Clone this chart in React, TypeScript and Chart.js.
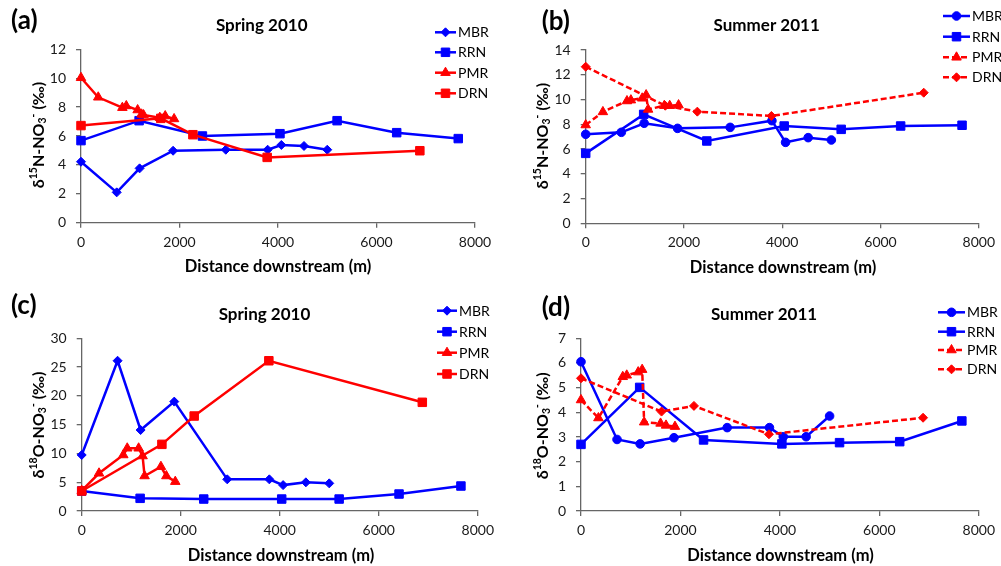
import { useEffect, useRef } from "react";
import { Chart, registerables } from "chart.js";

Chart.register(...registerables);

const FONT = "Lato, 'Open Sans', 'DejaVu Sans', sans-serif";
const BLUE = "#0000ff";
const RED = "#ff0000";
const AXIS = "#666666";

// distance downstream (m) of each sampling site
const MBR_X = [0, 725, 1190, 1870, 2940, 3790, 4068, 4528, 5000];
const RRN_X = [0, 1180, 2465, 4040, 5200, 6410, 7660];
const PMR_X = [0, 350, 840, 920, 1150, 1230, 1270, 1600, 1710, 1890];
const DRN_X = [0, 1620, 2272, 3780, 6880];

// (a) d15N spring 2010
const A_MBR = [4.22, 2.1, 3.76, 4.98, 5.05, 5.05, 5.38, 5.31, 5.05];
const A_RRN = [5.68, 7.06, 6.0, 6.16, 7.06, 6.23, 5.82];
const A_PMR = [10.03, 8.68, 7.96, 8.08, 7.8, 7.5, 7.45, 7.27, 7.38, 7.18];
const A_DRN = [6.72, 7.22, 6.09, 4.52, 4.98];

// (b) d15N summer 2011
const B_MBR = [7.19, 7.35, 8.08, 7.67, 7.75, 8.29, 6.54, 6.92, 6.73];
const B_RRN = [5.65, 8.8, 6.65, 7.86, 7.59, 7.86, 7.92];
const B_PMR = [7.94, 9.0, 9.88, 9.95, 10.1, 10.36, 9.2, 9.5, 9.5, 9.55];
const B_DRN = [12.65, 9.5, 9.02, 8.67, 10.55];

// (c) d18O spring 2010
const C_MBR = [9.73, 26.1, 14.07, 19.0, 5.5, 5.5, 4.5, 4.98, 4.8];
const C_RRN = [3.47, 2.2, 2.08, 2.08, 2.08, 2.95, 4.34];
const C_PMR = [3.53, 6.55, 9.73, 10.9, 10.9, 9.55, 6.08, 7.7, 6.08, 5.1];
const C_DRN = [3.47, 11.58, 16.5, 26.1, 18.88];

// (d) d18O summer 2011
const D_MBR = [6.05, 2.9, 2.72, 2.97, 3.38, 3.38, 3.01, 3.01, 3.85];
const D_RRN = [2.7, 5.01, 2.88, 2.72, 2.77, 2.81, 3.65];
const D_PMR = [4.5, 3.77, 5.44, 5.5, 5.63, 5.73, 3.6, 3.55, 3.47, 3.42];
const D_DRN = [5.38, 4.03, 4.26, 3.11, 3.78];

const X_TICK_MAX = 8000;
const X_TICK_STEP = 2000;

type Series = {
  label: string;
  xs: number[];
  ys: number[];
  color: string;
  shape: "circle" | "rect" | "rectRot" | "triangle";
  r: number;
  dashed: boolean;
};

type Panel = {
  tag: string;
  title: string;
  iso: string;
  elem: string;
  yMax: number;
  yStep: number;
  left: number;
  top: number;
  w: number;
  h: number;
  area: { l: number; r: number; t: number; b: number };
  tagPos: [number, number];
  titlePos: [number, number];
  xTitlePos: [number, number];
  yTitlePos: [number, number];
  legend: { x: number; len: number; ys: number[] };
  series: Series[];
};

function spring(mbr: number[], rrn: number[], pmr: number[], drn: number[]): Series[] {
  return [
    { label: "MBR", xs: MBR_X, ys: mbr, color: BLUE, shape: "rectRot", r: 4.5, dashed: false },
    { label: "RRN", xs: RRN_X, ys: rrn, color: BLUE, shape: "rect", r: 6, dashed: false },
    { label: "PMR", xs: PMR_X, ys: pmr, color: RED, shape: "triangle", r: 5.5, dashed: false },
    { label: "DRN", xs: DRN_X, ys: drn, color: RED, shape: "rect", r: 6, dashed: false },
  ];
}

function summer(mbr: number[], rrn: number[], pmr: number[], drn: number[]): Series[] {
  return [
    { label: "MBR", xs: MBR_X, ys: mbr, color: BLUE, shape: "circle", r: 4.3, dashed: false },
    { label: "RRN", xs: RRN_X, ys: rrn, color: BLUE, shape: "rect", r: 6, dashed: false },
    { label: "PMR", xs: PMR_X, ys: pmr, color: RED, shape: "triangle", r: 5.5, dashed: true },
    { label: "DRN", xs: DRN_X, ys: drn, color: RED, shape: "rectRot", r: 4.5, dashed: true },
  ];
}

const PANELS: Panel[] = [
  {
    tag: "a", title: "Spring 2010", iso: "15", elem: "N", yMax: 12, yStep: 2,
    left: 0, top: 0, w: 500, h: 283,
    area: { l: 81, r: 475, t: 49.3, b: 222.7 },
    tagPos: [11, 21], titlePos: [261.7, 25.7], xTitlePos: [278, 266.7], yTitlePos: [39, 135],
    legend: { x: 435, len: 21, ys: [32.3, 52.3, 72.7, 93.3] },
    series: spring(A_MBR, A_RRN, A_PMR, A_DRN),
  },
  {
    tag: "b", title: "Summer 2011", iso: "15", elem: "N", yMax: 14, yStep: 2,
    left: 500, top: 0, w: 501, h: 283,
    area: { l: 85.7, r: 479.3, t: 50, b: 223.3 },
    tagPos: [41.7, 21.5], titlePos: [266.7, 26], xTitlePos: [283, 267.7], yTitlePos: [42.7, 136],
    legend: { x: 443, len: 27, ys: [16, 36.7, 57.3, 77.3] },
    series: summer(B_MBR, B_RRN, B_PMR, B_DRN),
  },
  {
    tag: "c", title: "Spring 2010", iso: "18", elem: "O", yMax: 30, yStep: 5,
    left: 0, top: 283, w: 500, h: 283,
    area: { l: 81.7, r: 480, t: 55.3, b: 228 },
    tagPos: [11, 23], titlePos: [264.5, 31.3], xTitlePos: [281, 273], yTitlePos: [39, 142],
    legend: { x: 437, len: 20, ys: [27.7, 48.7, 69.7, 91] },
    series: spring(C_MBR, C_RRN, C_PMR, C_DRN),
  },
  {
    tag: "d", title: "Summer 2011", iso: "18", elem: "O", yMax: 7, yStep: 1,
    left: 500, top: 283, w: 501, h: 283,
    area: { l: 81, r: 480, t: 55.3, b: 228 },
    tagPos: [41.7, 24.5], titlePos: [264, 31.3], xTitlePos: [280.5, 273], yTitlePos: [42.7, 142.8],
    legend: { x: 438, len: 27, ys: [29.3, 48.7, 67, 86.3] },
    series: summer(D_MBR, D_RRN, D_PMR, D_DRN),
  },
];

function drawMarker(ctx: CanvasRenderingContext2D, s: Series, x: number, y: number) {
  const r = s.r;
  ctx.beginPath();
  if (s.shape === "circle") {
    ctx.arc(x, y, r, 0, Math.PI * 2);
  } else if (s.shape === "rect") {
    const h = Math.SQRT1_2 * r;
    ctx.rect(x - h, y - h, 2 * h, 2 * h);
  } else if (s.shape === "rectRot") {
    ctx.moveTo(x - r, y);
    ctx.lineTo(x, y - r);
    ctx.lineTo(x + r, y);
    ctx.lineTo(x, y + r);
    ctx.closePath();
  } else {
    ctx.moveTo(x, y - r);
    ctx.lineTo(x + 0.866 * r, y + 0.5 * r);
    ctx.lineTo(x - 0.866 * r, y + 0.5 * r);
    ctx.closePath();
  }
  ctx.fillStyle = s.color;
  ctx.strokeStyle = s.color;
  ctx.lineWidth = 1;
  ctx.setLineDash([]);
  ctx.fill();
  ctx.stroke();
}

function drawYTitle(ctx: CanvasRenderingContext2D, p: Panel) {
  const big = `bold 16px ${FONT}`;
  const small = `bold 10.5px ${FONT}`;
  // [text, shift]: 0 normal, 1 superscript, -1 subscript
  const parts: [string, number][] = [
    ["δ", 0], [p.iso, 1], [p.elem + "-NO", 0], ["3", -1], ["-", 1], [" (‰)", 0],
  ];
  let total = 0;
  const widths = parts.map(([t, k]) => {
    ctx.font = k === 0 ? big : small;
    const wd = ctx.measureText(t).width;
    total += wd;
    return wd;
  });
  ctx.save();
  ctx.translate(p.yTitlePos[0], p.yTitlePos[1]);
  ctx.rotate(-Math.PI / 2);
  ctx.textAlign = "left";
  ctx.textBaseline = "middle";
  ctx.fillStyle = "#000";
  let x = -total / 2;
  parts.forEach(([t, k], i) => {
    ctx.font = k === 0 ? big : small;
    const dy = k === 1 ? -5 : k === -1 ? 4 : 0;
    ctx.fillText(t, x, dy);
    x += widths[i];
  });
  ctx.restore();
}

function overlay(p: Panel) {
  return {
    id: "overlay-" + p.tag,
    afterDraw(chart: Chart) {
      const ctx = chart.ctx;
      ctx.save();
      ctx.fillStyle = "#000";
      ctx.textBaseline = "middle";

      ctx.textAlign = "left";
      ctx.font = `bold 26px ${FONT}`;
      ctx.fillText(`(${p.tag})`, p.tagPos[0], p.tagPos[1]);

      ctx.textAlign = "center";
      ctx.font = `bold 17px ${FONT}`;
      ctx.fillText(p.title, p.titlePos[0], p.titlePos[1]);

      ctx.font = `bold 16.5px ${FONT}`;
      ctx.fillText("Distance downstream (m)", p.xTitlePos[0], p.xTitlePos[1]);

      drawYTitle(ctx, p);

      // legend: line + marker + name
      p.series.forEach((s, i) => {
        const y = p.legend.ys[i];
        const x1 = p.legend.x;
        const x2 = x1 + p.legend.len;
        ctx.beginPath();
        ctx.strokeStyle = s.color;
        ctx.lineWidth = 2.5;
        ctx.setLineDash(s.dashed ? [6, 3] : []);
        ctx.moveTo(x1, y);
        ctx.lineTo(x2, y);
        ctx.stroke();
        drawMarker(ctx, s, (x1 + x2) / 2, y);
        ctx.fillStyle = "#000";
        ctx.textAlign = "left";
        ctx.font = `14px ${FONT}`;
        ctx.fillText(s.label, x2 + 2, y + 0.5);
      });
      ctx.restore();
    },
  };
}

function buildConfig(p: Panel): any {
  const a = p.area;
  const tickFont = { family: FONT, size: 14 };
  const grid = { display: true, drawOnChartArea: false, drawTicks: true, tickLength: 5, color: AXIS, lineWidth: 1.3 };
  const border = { display: true, color: AXIS, width: 1.3 };
  return {
    type: "line",
    data: {
      datasets: p.series.map((s, i) => ({
        label: s.label,
        data: s.xs.map((x, j) => ({ x, y: s.ys[j] })),
        borderColor: s.color,
        backgroundColor: s.color,
        borderWidth: 2.5,
        borderDash: s.dashed ? [6, 3] : [],
        pointStyle: s.shape,
        pointRadius: s.r,
        pointBorderWidth: 1,
        pointBorderColor: s.color,
        pointBackgroundColor: s.color,
        tension: 0,
        fill: false,
        clip: false,
        order: 4 - i,
      })),
    },
    options: {
      animation: false,
      responsive: false,
      events: [],
      layout: { padding: { left: 0, top: a.t, right: p.w - a.r, bottom: 0 } },
      plugins: { legend: { display: false }, tooltip: { enabled: false }, title: { display: false } },
      scales: {
        x: {
          type: "linear",
          min: 0,
          max: X_TICK_MAX,
          ticks: { stepSize: X_TICK_STEP, padding: 6, color: "#1a1a1a", font: tickFont, maxRotation: 0, callback: (v: number) => String(v) },
          grid,
          border,
          afterFit: (s: any) => { s.height = p.h - a.b; },
        },
        y: {
          type: "linear",
          min: 0,
          max: p.yMax,
          ticks: { stepSize: p.yStep, padding: 10, color: "#1a1a1a", font: tickFont, callback: (v: number) => String(v) },
          grid,
          border,
          afterFit: (s: any) => { s.width = a.l; },
        },
      },
    },
    plugins: [overlay(p)],
  };
}

function PanelChart({ p }: { p: Panel }) {
  const canvasRef = useRef<HTMLCanvasElement | null>(null);

  useEffect(() => {
    if (!canvasRef.current) return;
    const chart = new Chart(canvasRef.current, buildConfig(p));
    return () => chart.destroy();
  }, [p]);

  return (
    <canvas
      ref={canvasRef}
      width={p.w}
      height={p.h}
      style={{ position: "absolute", left: p.left, top: p.top, width: p.w, height: p.h }}
    />
  );
}

export default function App() {
  return (
    <div style={{ position: "fixed", left: 0, top: 0, width: 1001, height: 566, background: "#fff", overflow: "hidden" }}>
      {PANELS.map((p) => (
        <PanelChart key={p.tag} p={p} />
      ))}
    </div>
  );
}
